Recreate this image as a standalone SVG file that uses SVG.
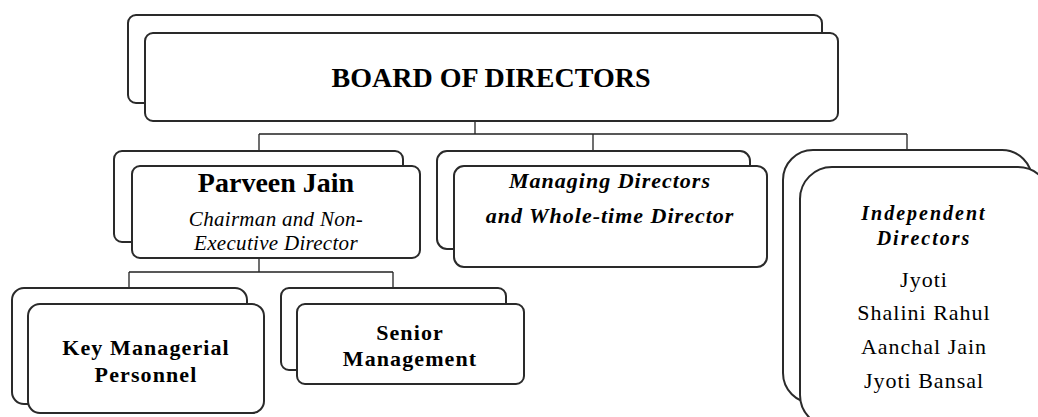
<svg xmlns="http://www.w3.org/2000/svg" width="1038" height="417" viewBox="0 0 1038 417">
<style>
.box{fill:#fff;stroke:#2a2a2a;stroke-width:2}
.con{fill:none;stroke:#222;stroke-width:1.3}
.t{fill:#000;text-anchor:middle}
.b{font-weight:bold}
.i{font-style:italic}
.bi{font-weight:bold;font-style:italic}
</style>
<rect width="1038" height="417" fill="#fff"/>
<g id="connectors">
<path class="con" d="M475 121V134M259 134H907M259 134V150M593 134V150M907 134V150"/>
<path class="con" d="M259 258V272M129 272H393M129 272V288M393 272V288"/>
</g>
<g font-family="Liberation Serif, DejaVu Serif, serif">
<g id="board">
<rect class="box" x="128" y="15" width="694" height="88" rx="8"/>
<rect class="box" x="145" y="33" width="693" height="88" rx="8"/>
<text class="t b" x="491" y="87" font-size="28">BOARD OF DIRECTORS</text>
</g>
<g id="parveen">
<rect class="box" x="114" y="151" width="289" height="91" rx="8"/>
<rect class="box" x="132" y="166" width="288" height="92" rx="8"/>
<text class="t b" x="276" y="192" font-size="28">Parveen Jain</text>
<text class="t i" x="276" y="226" font-size="21" letter-spacing="0.3">Chairman and Non-</text>
<text class="t i" x="276" y="250" font-size="21" letter-spacing="0.3">Executive Director</text>
</g>
<g id="managing">
<rect class="box" x="437" y="151" width="313" height="98" rx="10"/>
<rect class="box" x="454" y="166" width="313" height="101" rx="10"/>
<text class="t bi" x="610" y="188" font-size="22" letter-spacing="1">Managing Directors</text>
<text class="t bi" x="610" y="223" font-size="22" letter-spacing="1">and Whole-time Director</text>
</g>
<g id="independent">
<rect class="box" x="783" y="150" width="249" height="253" rx="30"/>
<rect class="box" x="800" y="167" width="250" height="260" rx="32"/>
<text class="t bi" x="924" y="220" font-size="20" letter-spacing="2">Independent</text>
<text class="t bi" x="924" y="245" font-size="20" letter-spacing="2">Directors</text>
<text class="t" x="924" y="287" font-size="22" letter-spacing="1">Jyoti</text>
<text class="t" x="924" y="320" font-size="22" letter-spacing="1">Shalini Rahul</text>
<text class="t" x="924" y="354" font-size="22" letter-spacing="1">Aanchal Jain</text>
<text class="t" x="924" y="388" font-size="22" letter-spacing="1">Jyoti Bansal</text>
</g>
<g id="kmp">
<rect class="box" x="12" y="288" width="235" height="116" rx="12"/>
<rect class="box" x="28" y="304" width="236" height="109" rx="12"/>
<text class="t b" x="146" y="355" font-size="22" letter-spacing="1.1">Key Managerial</text>
<text class="t b" x="146" y="382" font-size="22" letter-spacing="1.1">Personnel</text>
</g>
<g id="senior">
<rect class="box" x="281" y="288" width="225" height="82" rx="8"/>
<rect class="box" x="297" y="304" width="227" height="80" rx="8"/>
<text class="t b" x="410" y="340" font-size="22" letter-spacing="1.1">Senior</text>
<text class="t b" x="410" y="366" font-size="22" letter-spacing="1.1">Management</text>
</g>
</g>
</svg>
